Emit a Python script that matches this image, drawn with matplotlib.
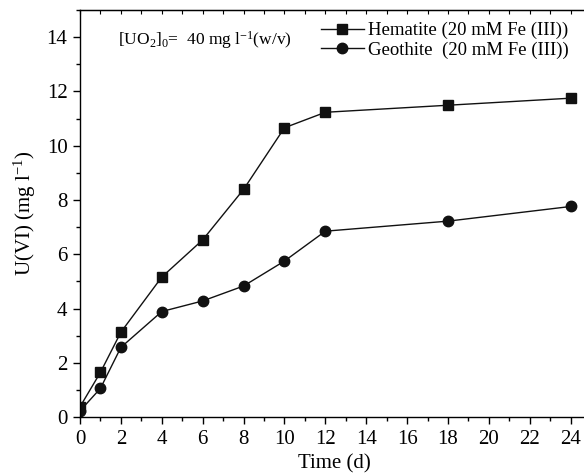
import matplotlib
matplotlib.use("Agg")
import matplotlib.pyplot as plt
from matplotlib.ticker import MultipleLocator

plt.rcParams['font.family'] = ['Liberation Serif', 'DejaVu Serif']
plt.rcParams['mathtext.fontset'] = 'custom'
plt.rcParams['mathtext.rm'] = 'Liberation Serif'
plt.rcParams['mathtext.it'] = 'Liberation Serif:italic'

# data
time_d = [0, 1, 2, 4, 6, 8, 10, 12, 18, 24]
hematite = [0.38, 1.65, 3.13, 5.16, 6.53, 8.39, 10.66, 11.23, 11.49, 11.75]
geothite = [0.23, 1.06, 2.57, 3.89, 4.28, 4.83, 5.75, 6.85, 7.22, 7.76]

fig = plt.figure(figsize=(5.84, 4.74), dpi=100)
ax = fig.add_axes([0.137, 0.12, 0.87, 0.859])

ax.plot(time_d, hematite, color='#111111', lw=1.0, marker='s', ms=6.5,
        label='Hematite (20 mM Fe (III))')
ax.plot(time_d, geothite, color='#111111', lw=1.0, marker='o', ms=7.5,
        label='Geothite  (20 mM Fe (III))')

ax.set_xlim(0, 24.85)
ax.set_ylim(0, 15)
ax.xaxis.set_major_locator(MultipleLocator(2))
ax.xaxis.set_minor_locator(MultipleLocator(1))
ax.yaxis.set_major_locator(MultipleLocator(2))
ax.yaxis.set_minor_locator(MultipleLocator(1))
ax.tick_params(which='both', direction='out', labelsize=15, width=1, pad=4)
ax.tick_params(which='major', length=5)
ax.tick_params(which='minor', length=3)
ax.spines['right'].set_visible(False)
for s in ax.spines.values():
    s.set_linewidth(1.0)

# small inward ticks along the top frame
top = ax.secondary_xaxis('top')
top.xaxis.set_major_locator(MultipleLocator(1))
top.tick_params(direction='in', length=3, labeltop=False)

ax.set_xlabel('Time (d)', fontsize=15, labelpad=4)
ax.set_ylabel('U(VI) (mg l$^{-1}$)', fontsize=15, labelpad=6)

ax.text(0.075, 0.925, '[UO$_2$]$_0$=  40 mg l$^{-1}$(w/v)', transform=ax.transAxes,
        fontsize=12.5, va='center')

leg = ax.legend(loc='upper right', frameon=False, fontsize=13.5, handlelength=2.3,
                handletextpad=0.2, labelspacing=0.1, borderaxespad=0.25,
                bbox_to_anchor=(0.985, 1.0))

fig.savefig('out.png', dpi=100)
